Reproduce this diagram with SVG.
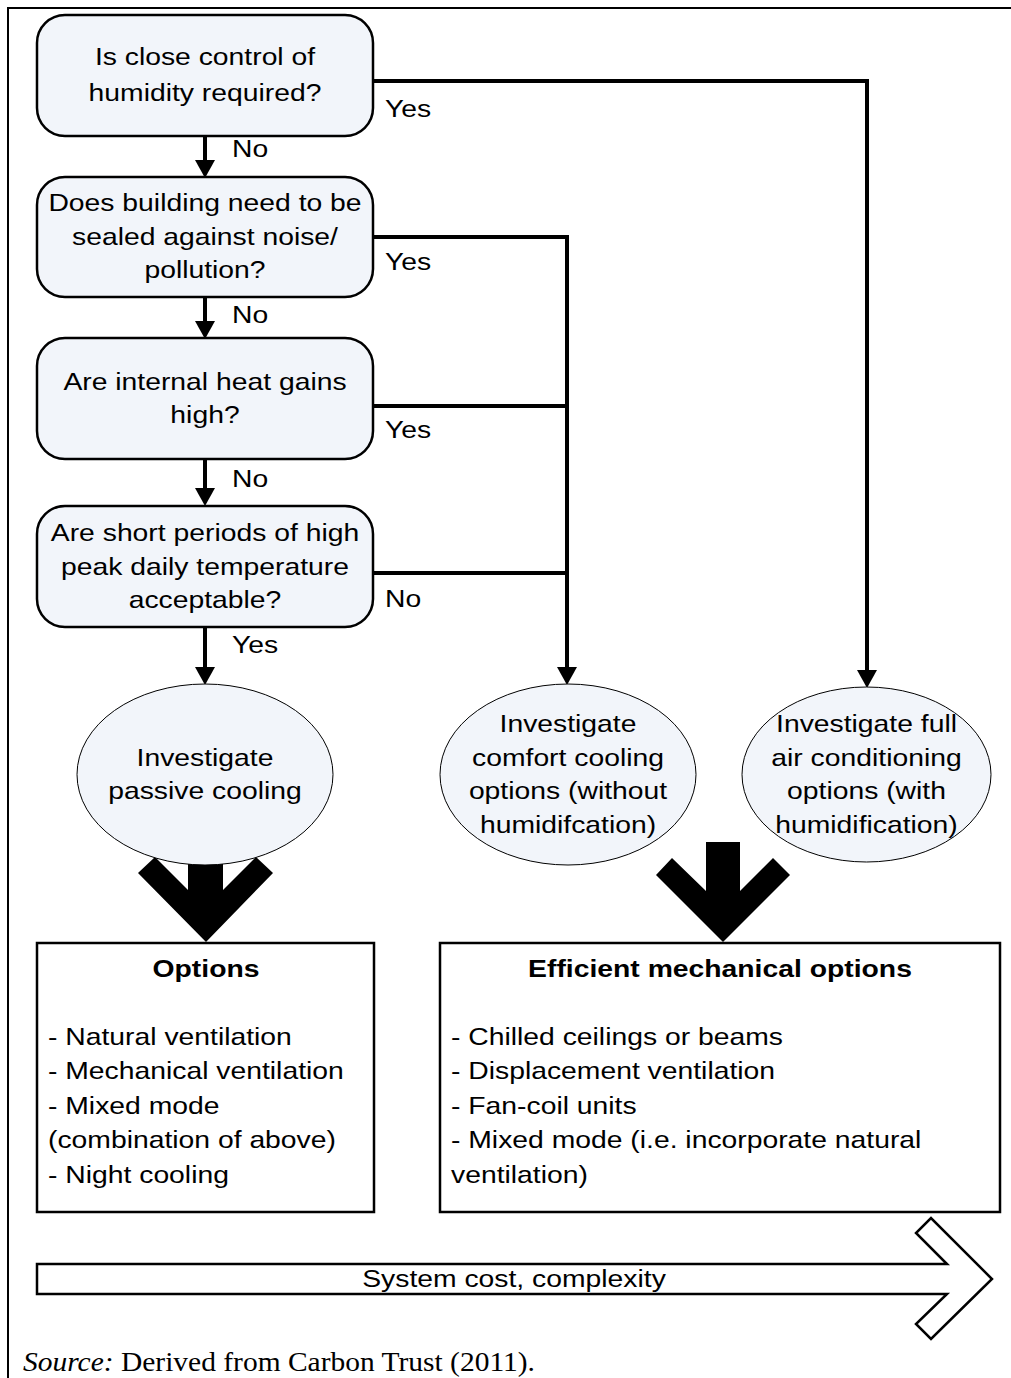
<svg xmlns="http://www.w3.org/2000/svg" width="1011" height="1378" viewBox="0 0 1011 1378">
<style>
text{font-family:"Liberation Sans",Arial,sans-serif;font-size:24px;fill:#000}
.c{text-anchor:middle}
.b{font-weight:bold}
.q{fill:#F2F5FA;stroke:#000;stroke-width:2.5}
.e{fill:#F2F5FA;stroke:#000;stroke-width:1}
.o{fill:#fff;stroke:#000;stroke-width:2.5}
.ln{fill:none;stroke:#000;stroke-width:4;stroke-linejoin:miter}
.src{font-family:"Liberation Serif","Times New Roman",serif;font-size:27px}
</style>
<defs>
<marker id="ah" markerUnits="userSpaceOnUse" markerWidth="18" markerHeight="20" viewBox="0 0 18 20" refX="0" refY="10" orient="auto">
<path d="M0,0 L18,10 L0,20 z" fill="#000"/>
</marker>
</defs>
<rect width="1011" height="1378" fill="#fff"/>
<g id="frame" fill="none" stroke="#000" stroke-width="2">
<path d="M7,8 H1011 M8,8 V1378"/>
</g>
<g id="connectors">
<path class="ln" d="M205,136 V160" marker-end="url(#ah)"/>
<path class="ln" d="M205,297 V321" marker-end="url(#ah)"/>
<path class="ln" d="M205,459 V488" marker-end="url(#ah)"/>
<path class="ln" d="M205,627 V667" marker-end="url(#ah)"/>
<path class="ln" d="M373,81 H867 V670" marker-end="url(#ah)"/>
<path class="ln" d="M373,237 H567 V667" marker-end="url(#ah)"/>
<path class="ln" d="M373,406 H567"/>
<path class="ln" d="M373,573 H567"/>
<polygon points="188,850 188,890 155,857 138,873 206,942 273,873 256,857 223,890 223,850" fill="#000"/>
<polygon points="706,842 740,842 740,891 773,858 790,875 723,942 656,875 672,858 706,891" fill="#000"/>
<g transform="translate(232 0) scale(1.18 1)">
<text x="0" y="157">No</text>
<text x="0" y="323">No</text>
<text x="0" y="487">No</text>
<text x="0" y="653">Yes</text>
</g>
<g transform="translate(385 0) scale(1.18 1)">
<text x="0" y="117">Yes</text>
<text x="0" y="270">Yes</text>
<text x="0" y="438">Yes</text>
<text x="0" y="607">No</text>
</g>
</g>
<g id="q1">
<rect class="q" x="37" y="15" width="336" height="121" rx="28"/>
<g transform="translate(205 0) scale(1.18 1)">
<text class="c" x="0" y="65">Is close control of</text>
<text class="c" x="0" y="101">humidity required?</text>
</g>
</g>
<g id="q2">
<rect class="q" x="37" y="177" width="336" height="120" rx="28"/>
<g transform="translate(205 0) scale(1.18 1)">
<text class="c" x="0" y="211">Does building need to be</text>
<text class="c" x="0" y="245">sealed against noise/</text>
<text class="c" x="0" y="278">pollution?</text>
</g>
</g>
<g id="q3">
<rect class="q" x="37" y="338" width="336" height="121" rx="28"/>
<g transform="translate(205 0) scale(1.18 1)">
<text class="c" x="0" y="390">Are internal heat gains</text>
<text class="c" x="0" y="423">high?</text>
</g>
</g>
<g id="q4">
<rect class="q" x="37" y="506" width="336" height="121" rx="28"/>
<g transform="translate(205 0) scale(1.18 1)">
<text class="c" x="0" y="541">Are short periods of high</text>
<text class="c" x="0" y="575">peak daily temperature</text>
<text class="c" x="0" y="608">acceptable?</text>
</g>
</g>
<g id="e1">
<ellipse class="e" cx="205" cy="774.5" rx="128" ry="90.5"/>
<g transform="translate(205 0) scale(1.18 1)">
<text class="c" x="0" y="766">Investigate</text>
<text class="c" x="0" y="799">passive cooling</text>
</g>
</g>
<g id="e2">
<ellipse class="e" cx="568" cy="774.5" rx="128" ry="90.5"/>
<g transform="translate(568 0) scale(1.18 1)">
<text class="c" x="0" y="732">Investigate</text>
<text class="c" x="0" y="766">comfort cooling</text>
<text class="c" x="0" y="799">options (without</text>
<text class="c" x="0" y="833">humidifcation)</text>
</g>
</g>
<g id="e3">
<ellipse class="e" cx="866.5" cy="774.5" rx="124.5" ry="87.5"/>
<g transform="translate(866.5 0) scale(1.18 1)">
<text class="c" x="0" y="732">Investigate full</text>
<text class="c" x="0" y="766">air conditioning</text>
<text class="c" x="0" y="799">options (with</text>
<text class="c" x="0" y="833">humidification)</text>
</g>
</g>
<g id="options">
<rect class="o" x="37" y="943" width="337" height="269"/>
<g transform="translate(206 0) scale(1.18 1)">
<text class="c b" x="0" y="977">Options</text>
</g>
<g transform="translate(48 0) scale(1.18 1)">
<text x="0" y="1045">- Natural ventilation</text>
<text x="0" y="1079">- Mechanical ventilation</text>
<text x="0" y="1114">- Mixed mode</text>
<text x="0" y="1148">(combination of above)</text>
<text x="0" y="1183">- Night cooling</text>
</g>
</g>
<g id="mech">
<rect class="o" x="440" y="943" width="560" height="269"/>
<g transform="translate(720 0) scale(1.18 1)">
<text class="c b" x="0" y="977">Efficient mechanical options</text>
</g>
<g transform="translate(451 0) scale(1.18 1)">
<text x="0" y="1045">- Chilled ceilings or beams</text>
<text x="0" y="1079">- Displacement ventilation</text>
<text x="0" y="1114">- Fan-coil units</text>
<text x="0" y="1148">- Mixed mode (i.e. incorporate natural</text>
<text x="0" y="1183">ventilation)</text>
</g>
</g>
<g id="cost">
<polygon class="o" stroke-width="2" points="37,1264 947,1264 916,1233 931,1218 992,1279 931,1339 916,1324 947,1294 37,1294"/>
<g transform="translate(514 0) scale(1.18 1)">
<text class="c" x="0" y="1287">System cost, complexity</text>
</g>
</g>
<g id="source">
<text class="src" x="23" y="1371" textLength="512" lengthAdjust="spacingAndGlyphs"><tspan font-style="italic">Source:</tspan> Derived from Carbon Trust (2011).</text>
</g>
</svg>
